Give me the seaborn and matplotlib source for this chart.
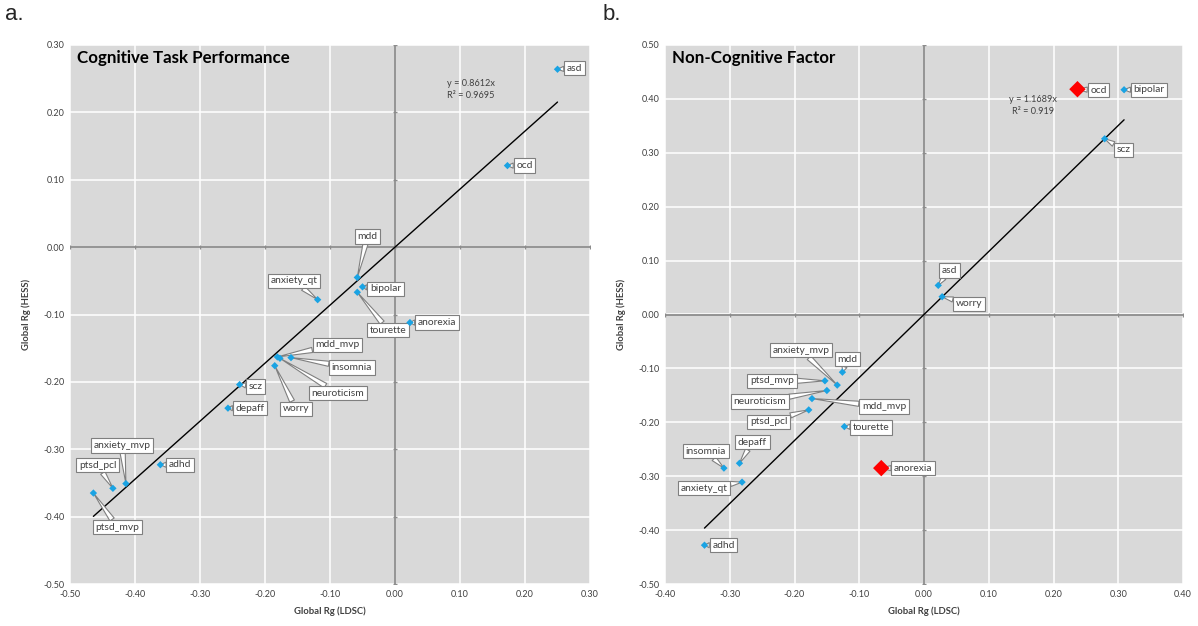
import numpy as np
import pandas as pd
import matplotlib
matplotlib.use("Agg")
import matplotlib.pyplot as plt
from matplotlib.ticker import FormatStrFormatter, MultipleLocator
import seaborn as sns

# ---- Panel a: cognitive task performance ----
traits_a = ["asd", "ocd", "mdd", "bipolar", "tourette", "anorexia", "anxiety_qt",
            "mdd_mvp", "neuroticism", "insomnia", "worry", "scz", "depaff",
            "adhd", "anxiety_mvp", "ptsd_pcl", "ptsd_mvp"]
ldsc_a = [0.250, 0.173, -0.058, -0.050, -0.058, 0.023, -0.119,
          -0.181, -0.177, -0.160, -0.185, -0.239, -0.257,
          -0.361, -0.414, -0.434, -0.464]
hess_a = [0.264, 0.121, -0.045, -0.059, -0.067, -0.112, -0.078,
          -0.163, -0.165, -0.164, -0.176, -0.204, -0.239,
          -0.323, -0.351, -0.358, -0.365]
slope_a = 0.8612
r2_a = 0.9695

# ---- Panel b: non-cognitive factor ----
traits_b = ["ocd", "bipolar", "scz", "asd", "worry", "anorexia", "anxiety_mvp",
            "mdd", "ptsd_mvp", "neuroticism", "mdd_mvp", "ptsd_pcl", "tourette",
            "depaff", "insomnia", "anxiety_qt", "adhd"]
ldsc_b = [0.237, 0.309, 0.279, 0.022, 0.028, -0.066, -0.134,
          -0.126, -0.153, -0.150, -0.173, -0.178, -0.123,
          -0.285, -0.309, -0.281, -0.339]
hess_b = [0.418, 0.417, 0.326, 0.054, 0.033, -0.285, -0.131,
          -0.107, -0.123, -0.141, -0.156, -0.177, -0.208,
          -0.276, -0.285, -0.311, -0.428]
flagged_b = ["ocd", "anorexia"]
slope_b = 1.1689
r2_b = 0.919

# callout box offsets from each point, in pixels (x right, y up)
callouts_a = {
    "asd": (17, 1), "ocd": (17, 0), "mdd": (10, 41), "bipolar": (23, -2),
    "tourette": (31, -38), "anorexia": (27, 0), "anxiety_qt": (-24, 19),
    "mdd_mvp": (60, 12), "insomnia": (61, -10), "neuroticism": (58, -35),
    "worry": (21, -43), "scz": (16, -2), "depaff": (22, 0), "adhd": (20, 0),
    "anxiety_mvp": (-4, 38), "ptsd_pcl": (-15, 23), "ptsd_mvp": (24, -34),
}
callouts_b = {
    "ocd": (21, -1), "bipolar": (25, 0), "scz": (19, -11), "asd": (11, 15),
    "worry": (27, -7), "anorexia": (32, 0), "anxiety_mvp": (-36, 35),
    "mdd": (5, 13), "ptsd_mvp": (-53, 0), "neuroticism": (-67, -11),
    "mdd_mvp": (72, -8), "ptsd_pcl": (-40, -12), "tourette": (27, -1),
    "depaff": (13, 21), "insomnia": (-18, 17), "anxiety_qt": (-38, -6),
    "adhd": (19, 0),
}

BG = "#D9D9D9"
BLUE = "#1AA3E3"
RED = "#FF0000"
AXIS_GRAY = "#8C8C8C"
TXT = "#404040"
FONT = ["Lato", "DejaVu Sans"]

sns.set_theme(style="darkgrid", rc={
    "axes.facecolor": BG,
    "grid.color": "white",
    "grid.linewidth": 1.1,
    "axes.edgecolor": BG,
})
plt.rcParams["font.family"] = FONT
plt.rcParams["axes.unicode_minus"] = False

fig = plt.figure(figsize=(11.98, 6.26), dpi=100)
ax_a = fig.add_axes([70 / 1198, 42 / 626, 520 / 1198, 539 / 626])
ax_b = fig.add_axes([665 / 1198, 42 / 626, 518 / 1198, 539 / 626])


def draw_panel(ax, traits, xs, ys, slope, r2, callouts, title, xlim, ylim,
               eq_pos, flagged=()):
    df = pd.DataFrame({"trait": traits, "ldsc": xs, "hess": ys})
    df["flag"] = df["trait"].isin(flagged)
    fit = df[~df["flag"]]

    ax.set_xlim(*xlim)
    ax.set_ylim(*ylim)
    ax.xaxis.set_major_locator(MultipleLocator(0.1))
    ax.yaxis.set_major_locator(MultipleLocator(0.1))
    ax.xaxis.set_major_formatter(FormatStrFormatter("%.2f"))
    ax.yaxis.set_major_formatter(FormatStrFormatter("%.2f"))
    ax.tick_params(axis="both", length=0, labelsize=6.5, colors=TXT, pad=4)
    for s in ax.spines.values():
        s.set_visible(False)

    # axis lines through the origin with small cross ticks
    ax.axhline(0, color=AXIS_GRAY, lw=1.3, zorder=1.5)
    ax.axvline(0, color=AXIS_GRAY, lw=1.3, zorder=1.5)
    xt = [t for t in ax.get_xticks() if xlim[0] - 1e-9 <= t <= xlim[1] + 1e-9]
    yt = [t for t in ax.get_yticks() if ylim[0] - 1e-9 <= t <= ylim[1] + 1e-9]
    ax.plot(xt, np.zeros(len(xt)), ls="none", marker="|", ms=3.5,
            color=AXIS_GRAY, mew=1.0, zorder=1.6)
    ax.plot(np.zeros(len(yt)), yt, ls="none", marker="_", ms=3.5,
            color=AXIS_GRAY, mew=1.0, zorder=1.6)

    # regression through the origin over the fitted range
    x0, x1 = fit["ldsc"].min(), fit["ldsc"].max()
    line = pd.DataFrame({"x": [x0, x1], "y": [slope * x0, slope * x1]})
    sns.lineplot(data=line, x="x", y="y", ax=ax, color="black", lw=1.0,
                 zorder=2)

    # callouts
    for _, row in df.iterrows():
        dx, dy = callouts[row["trait"]]
        ax.annotate(
            row["trait"], xy=(row["ldsc"], row["hess"]), xytext=(dx, dy),
            textcoords="offset pixels", ha="center", va="center",
            fontsize=7.4, color=TXT, family=FONT, zorder=3,
            bbox=dict(boxstyle="square,pad=0.26", fc="white", ec="#7F7F7F",
                      lw=0.8),
            arrowprops=dict(arrowstyle="wedge,tail_width=0.5,shrink_factor=0.5",
                            fc="white", ec="#7F7F7F", lw=0.8,
                            shrinkA=0, shrinkB=0),
        )

    sns.scatterplot(data=df[~df["flag"]], x="ldsc", y="hess", ax=ax,
                    marker="D", s=14, color=BLUE, edgecolor="none",
                    zorder=4, legend=False)
    if df["flag"].any():
        sns.scatterplot(data=df[df["flag"]], x="ldsc", y="hess", ax=ax,
                        marker="D", s=70, color=RED, edgecolor="none",
                        zorder=4, legend=False)

    ax.set_xlabel("Global Rg (LDSC)", fontsize=6.8, fontweight="bold",
                  color=TXT, labelpad=6)
    ax.set_ylabel("Global Rg (HESS)", fontsize=6.8, fontweight="bold",
                  color=TXT, labelpad=9)
    ax.text(0.014, 0.975, title, transform=ax.transAxes, ha="left",
            va="center", fontsize=12.2, fontweight="bold", color="black")
    ax.text(eq_pos[0], eq_pos[1], f"y = {slope}x", transform=ax.transAxes,
            ha="center", va="center", fontsize=6.6, color=TXT)
    ax.text(eq_pos[0], eq_pos[1] - 0.022, f"R² = {r2}",
            transform=ax.transAxes, ha="center", va="center", fontsize=6.6,
            color=TXT)


draw_panel(ax_a, traits_a, ldsc_a, hess_a, slope_a, r2_a, callouts_a,
           "Cognitive Task Performance", (-0.5, 0.3), (-0.5, 0.3),
           (0.771, 0.928))
draw_panel(ax_b, traits_b, ldsc_b, hess_b, slope_b, r2_b, callouts_b,
           "Non-Cognitive Factor", (-0.4, 0.4), (-0.5, 0.5),
           (0.711, 0.899), flagged=flagged_b)

fig.text(5 / 1198, 1 - 15 / 626, "a.", fontsize=16, family="Liberation Sans",
         ha="left", va="center")
fig.text(603 / 1198, 1 - 15 / 626, "b.", fontsize=16, family="Liberation Sans",
         ha="left", va="center")

fig.savefig("out.png", dpi=100, facecolor="white")
